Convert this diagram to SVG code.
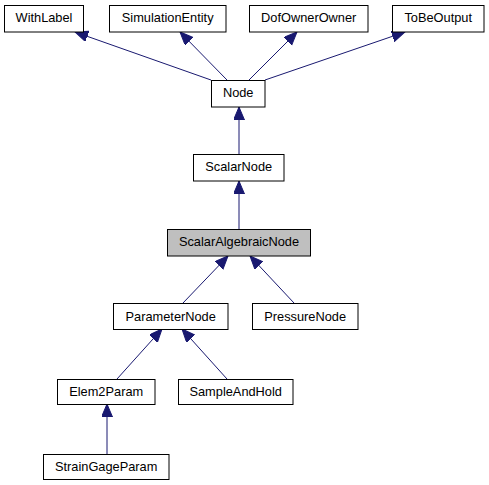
<svg xmlns="http://www.w3.org/2000/svg" width="489" height="485" viewBox="0 0 489 485">
<style>
.box{fill:#ffffff;stroke:#000000;stroke-width:1}
.sel{fill:#bfbfbf;stroke:#000000;stroke-width:1}
.lbl{font-family:"Liberation Sans",Arial,Helvetica,sans-serif;font-size:12.8px;fill:#000000;text-anchor:middle}
.edge{stroke:#191970;stroke-width:1;fill:none;marker-end:url(#arr)}
</style>
<defs>
<marker id="arr" markerUnits="userSpaceOnUse" markerWidth="14" markerHeight="12" refX="13" refY="5.5" orient="auto" viewBox="0 0 14 12">
<path d="M0,0 L13,5.5 L0,11 z" fill="#191970" stroke="#191970" stroke-width="1"/>
</marker>
</defs>
<rect width="489" height="485" fill="#ffffff"/>
<g id="connectors">
<line class="edge" x1="211" y1="80" x2="75" y2="32"/>
<line class="edge" x1="227" y1="80" x2="180" y2="32"/>
<line class="edge" x1="249" y1="80" x2="297" y2="32"/>
<line class="edge" x1="265" y1="80" x2="405" y2="32"/>
<line class="edge" x1="239" y1="154" x2="239" y2="107"/>
<line class="edge" x1="239" y1="229" x2="239" y2="181"/>
<line class="edge" x1="183" y1="303" x2="228" y2="256"/>
<line class="edge" x1="294" y1="303" x2="250" y2="256"/>
<line class="edge" x1="117" y1="379" x2="162" y2="329"/>
<line class="edge" x1="227" y1="379" x2="182" y2="329"/>
<line class="edge" x1="107" y1="454" x2="107" y2="404"/>
</g>
<g id="WithLabel"><rect class="box" x="4.5" y="5.5" width="79" height="26.5"/><text class="lbl" x="44" y="22">WithLabel</text></g>
<g id="SimulationEntity"><rect class="box" x="109.5" y="5.5" width="116.5" height="26.5"/><text class="lbl" x="167.7" y="22">SimulationEntity</text></g>
<g id="DofOwnerOwner"><rect class="box" x="249.5" y="5.5" width="118.5" height="26.5"/><text class="lbl" x="308.7" y="22">DofOwnerOwner</text></g>
<g id="ToBeOutput"><rect class="box" x="392.5" y="5.5" width="91.5" height="26.5"/><text class="lbl" x="438.2" y="22">ToBeOutput</text></g>
<g id="Node"><rect class="box" x="211.5" y="80.5" width="53.5" height="26.5"/><text class="lbl" x="238.2" y="97">Node</text></g>
<g id="ScalarNode"><rect class="box" x="193.5" y="154.5" width="90.5" height="26.5"/><text class="lbl" x="238.7" y="171">ScalarNode</text></g>
<g id="ScalarAlgebraicNode"><rect class="sel" x="167.5" y="229.5" width="143" height="26.5"/><text class="lbl" x="239" y="246">ScalarAlgebraicNode</text></g>
<g id="ParameterNode"><rect class="box" x="113.5" y="303.5" width="114.5" height="26"/><text class="lbl" x="170.7" y="320.5">ParameterNode</text></g>
<g id="PressureNode"><rect class="box" x="252.5" y="303.5" width="105.5" height="26"/><text class="lbl" x="305.2" y="320.5">PressureNode</text></g>
<g id="Elem2Param"><rect class="box" x="57.5" y="379.5" width="97.5" height="25"/><text class="lbl" x="106.2" y="396">Elem2Param</text></g>
<g id="SampleAndHold"><rect class="box" x="178.5" y="379.5" width="114.5" height="25"/><text class="lbl" x="235.7" y="396">SampleAndHold</text></g>
<g id="StrainGageParam"><rect class="box" x="43.5" y="454.5" width="125.5" height="25"/><text class="lbl" x="106.2" y="471">StrainGageParam</text></g>
</svg>
